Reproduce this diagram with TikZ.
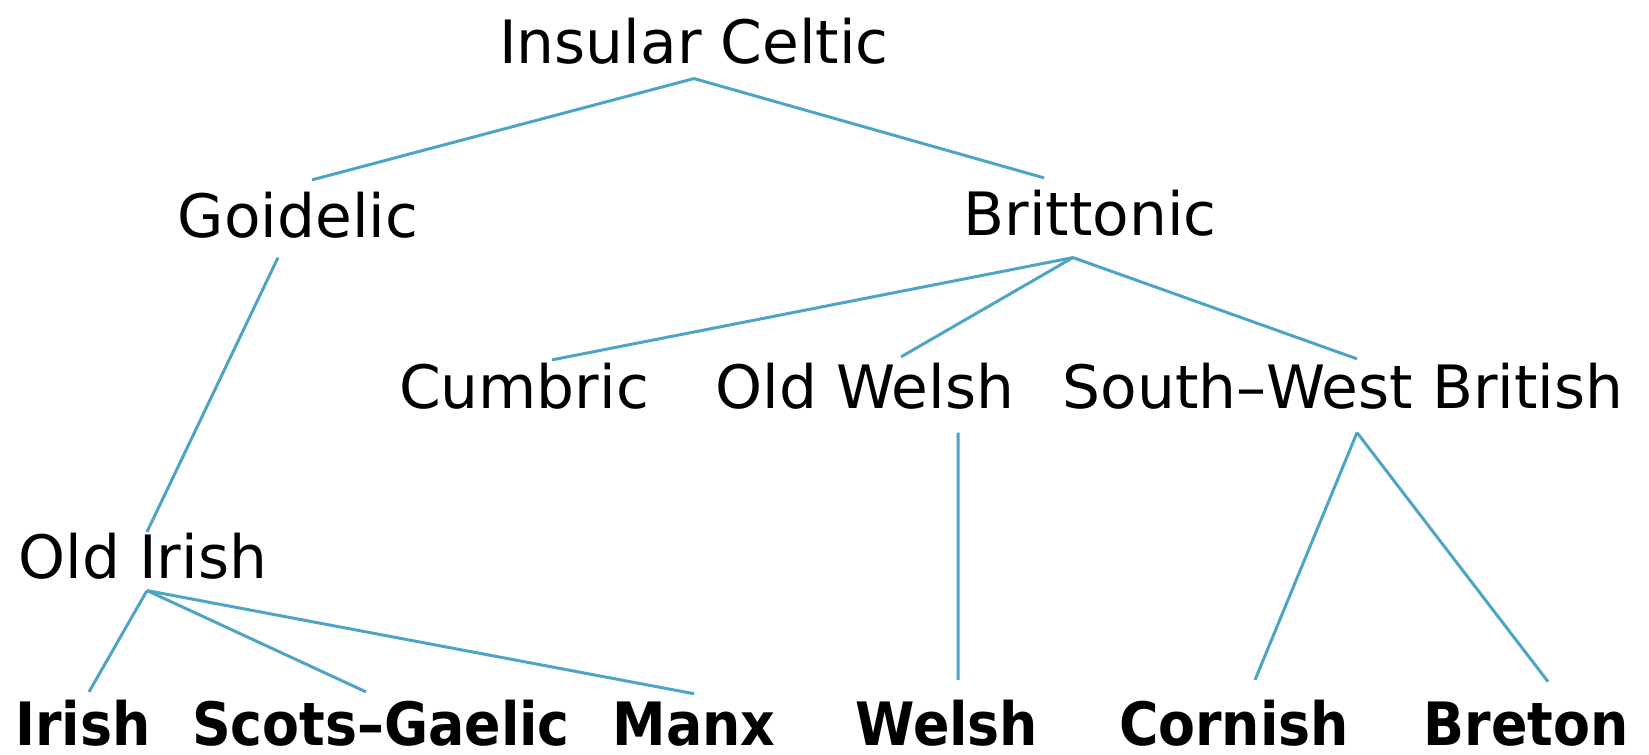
\documentclass[tikz,border=0pt]{standalone}
\usepackage{fontspec}
\setmainfont{DejaVu Sans}
\newfontfamily\modernfont{DejaVu Sans Condensed}
\definecolor{branchblue}{RGB}{78,164,196}
\tikzset{
  lang/.style={anchor=base, inner sep=0pt, font=\fontsize{17}{20}\selectfont},
  modern/.style={lang, font=\modernfont\bfseries\fontsize{17}{20}\selectfont},
  branch/.style={draw=branchblue, line width=0.85pt}
}

\begin{document}
\begin{tikzpicture}[x=0.01cm,y=-0.01cm]
  \useasboundingbox (0,0) rectangle (1649,754);

  % proto-languages
  \node (ic)  [lang] at (694,63)  {Insular Celtic};
  \node (goi) [lang] at (298,237) {Goidelic};
  \node (bri) [lang] at (1090,235) {Brittonic};
  \node (cum) [lang] at (524,408) {Cumbric};
  \node (ow)  [lang] at (865,408) {Old Welsh};
  \node (swb) [lang] at (1343,408) {South–West British};
  \node (oi)  [lang] at (143,578) {Old Irish};

  % living languages
  \node (iri)  [modern] at (83,745)   {Irish};
  \node (sg)   [modern] at (381,745)  {Scots–Gaelic};
  \node (manx) [modern] at (694,745)  {Manx};
  \node (wel)  [modern] at (947,745)  {Welsh};
  \node (cor)  [modern] at (1234,745) {Cornish};
  \node (bre)  [modern] at (1526,745) {Breton};

  \draw[branch] ([yshift=-0.14cm]ic.south) -- ([xshift=0.14cm,yshift=0.11cm]goi.north);
  \draw[branch] ([yshift=-0.14cm]ic.south) -- ([xshift=-0.46cm,yshift=0.11cm]bri.north);
  \draw[branch] ([xshift=-0.2cm,yshift=-0.19cm]goi.south) -- ([xshift=0.04cm]oi.north);
  \draw[branch] ([xshift=-0.17cm,yshift=-0.21cm]bri.south) -- ([xshift=0.28cm,yshift=0.02cm]cum.north);
  \draw[branch] ([xshift=-0.17cm,yshift=-0.21cm]bri.south) -- ([xshift=0.36cm,yshift=0.05cm]ow.north);
  \draw[branch] ([xshift=-0.17cm,yshift=-0.21cm]bri.south) -- ([xshift=0.14cm,yshift=0.03cm]swb.north);
  \draw[branch] ([xshift=0.93cm,yshift=-0.23cm]ow.south) -- ([xshift=0.11cm,yshift=0.19cm]wel.north);
  \draw[branch] ([xshift=0.14cm,yshift=-0.23cm]swb.south) -- ([xshift=0.21cm,yshift=0.19cm]cor.north);
  \draw[branch] ([xshift=0.14cm,yshift=-0.23cm]swb.south) -- ([xshift=0.22cm,yshift=0.19cm]bre.north);
  \draw[branch] ([xshift=0.04cm,yshift=-0.11cm]oi.south) -- ([xshift=0.06cm,yshift=0.07cm]iri.north);
  \draw[branch] ([xshift=0.04cm,yshift=-0.11cm]oi.south) -- ([xshift=-0.15cm,yshift=0.07cm]sg.north);
  \draw[branch] ([xshift=0.04cm,yshift=-0.11cm]oi.south) -- ([yshift=0.07cm]manx.north);
\end{tikzpicture}
\end{document}
